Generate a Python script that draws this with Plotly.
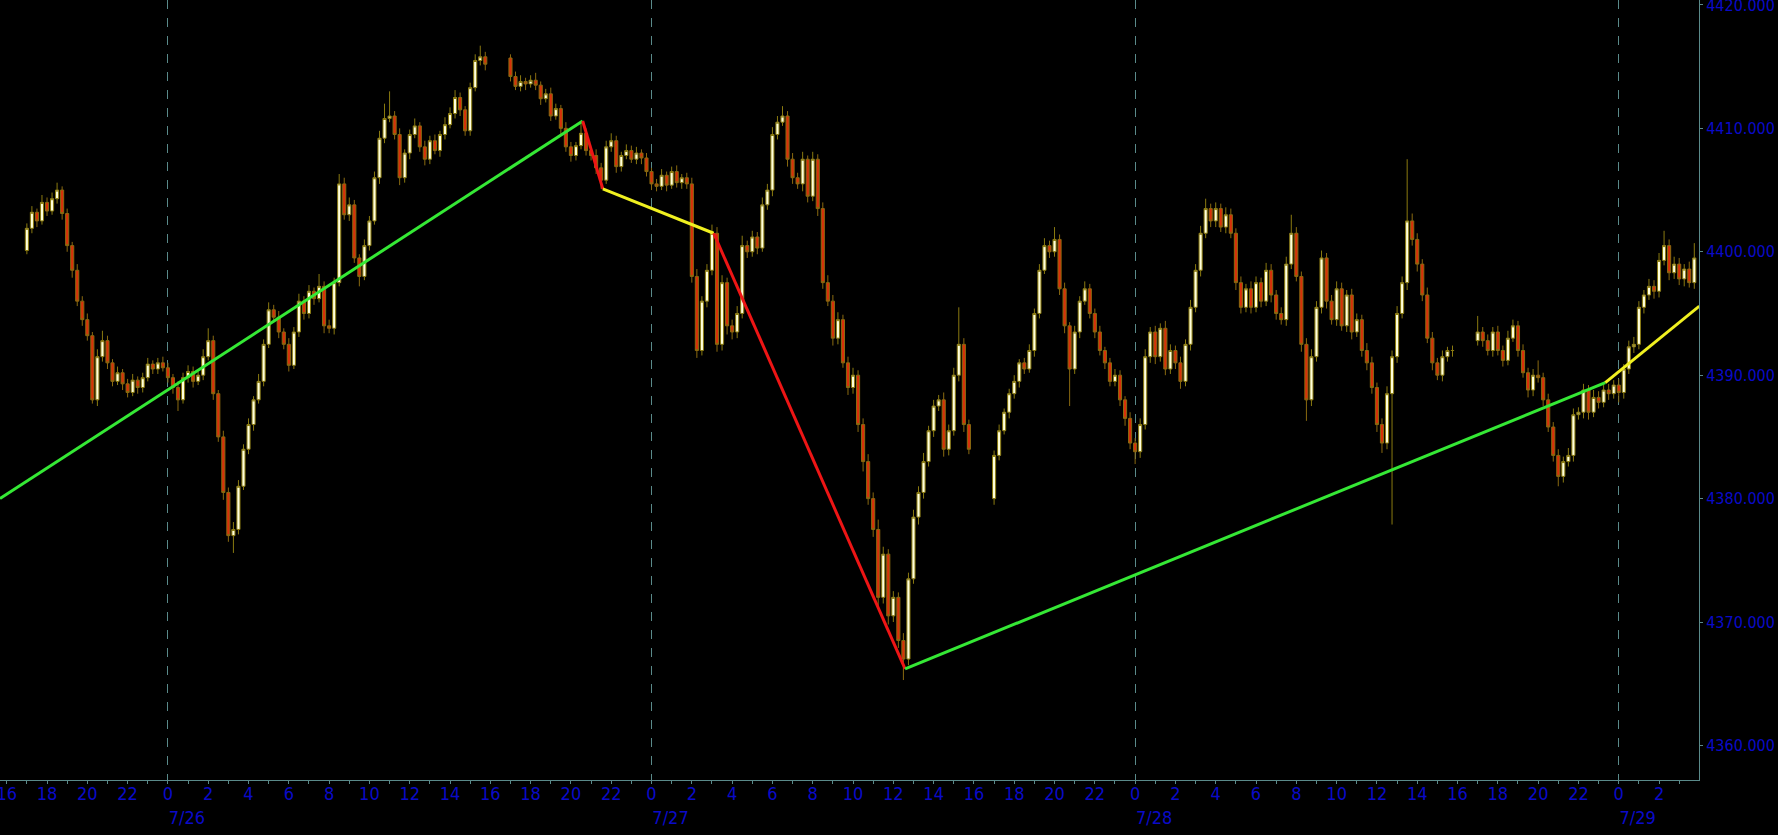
import pandas as pd
import plotly.graph_objects as go

# ---------------- data (ES futures, 15-minute bars) ----------------
session_starts = ["2021-07-25 17:00", "2021-07-26 17:00", "2021-07-27 17:00", "2021-07-28 17:00"]
session_opens = [4400.1, 4415.7, 4380.0, 4392.8]

closes_s1 = [
    4401.9, 4403.2, 4402.5, 4404.0, 4403.3, 4404.3, 4405.0, 4403.1,
    4400.5, 4398.5, 4396.0, 4394.5, 4393.2, 4388.0, 4391.5, 4392.8,
    4391.0, 4389.5, 4390.2, 4389.3, 4388.6, 4389.6, 4389.0, 4389.8,
    4390.9, 4390.5, 4391.0, 4390.6, 4389.8, 4389.0, 4388.0, 4389.8,
    4390.3, 4389.5, 4390.0, 4391.5, 4392.8, 4388.5, 4385.0, 4380.5,
    4377.0, 4377.5, 4381.0, 4384.0, 4386.0, 4388.0, 4389.5, 4392.5,
    4395.3, 4394.7, 4393.5, 4392.5, 4390.8, 4393.5, 4396.0, 4395.0,
    4396.8, 4396.2, 4397.2, 4394.0, 4393.8, 4397.5, 4405.5, 4403.0,
    4403.8, 4399.5, 4398.0, 4400.5, 4402.5, 4406.0, 4409.2, 4410.8,
    4411.0, 4409.5, 4406.0, 4408.0, 4409.5, 4410.2, 4408.5, 4407.5,
    4409.0, 4408.2, 4409.5, 4410.3, 4411.2, 4412.5, 4411.5, 4409.8,
    4413.3, 4415.5, 4415.8, 4415.2,
]
upper_s1 = [
    0.4, 0.5, 0.3, 0.6, 0.4, 0.5, 0.6, 0.3, 0.4, 0.3, 0.5, 0.4,
    0.5, 0.3, 0.6, 0.8, 0.4, 0.3, 0.5, 0.3, 0.4, 0.5, 0.3, 0.4,
    0.5, 0.3, 0.4, 0.5, 0.4, 0.3, 0.5, 0.4, 0.5, 0.4, 0.3, 0.6,
    1.0, 0.4, 0.3, 0.5, 0.4, 0.6, 0.5, 0.4, 0.5, 0.3, 0.6, 0.4,
    0.6, 0.4, 0.5, 0.3, 0.5, 0.4, 0.6, 0.4, 0.5, 0.3, 1.0, 0.4,
    0.5, 0.4, 0.8, 0.5, 0.6, 0.4, 0.3, 0.5, 0.4, 0.5, 0.6, 1.2,
    2.0, 0.4, 0.5, 0.3, 0.4, 0.6, 0.3, 0.5, 0.4, 0.5, 0.3, 0.6,
    0.5, 0.6, 0.4, 0.3, 0.4, 0.5, 0.9, 0.4,
]
lower_s1 = [
    0.3, 0.4, 0.5, 0.3, 0.4, 0.3, 0.4, 0.5, 0.5, 0.6, 0.4, 0.5,
    0.4, 0.3, 0.5, 0.4, 0.5, 0.4, 0.3, 0.5, 0.4, 0.3, 0.5, 0.4,
    0.3, 0.4, 0.4, 0.3, 0.4, 0.5, 0.9, 0.3, 0.4, 0.5, 0.3, 0.4,
    0.3, 0.5, 0.4, 0.6, 0.5, 1.4, 0.4, 0.3, 0.4, 0.5, 0.3, 0.4,
    0.3, 0.4, 0.5, 0.4, 0.5, 0.3, 0.4, 0.5, 0.4, 0.5, 0.3, 0.6,
    0.4, 0.5, 0.3, 0.4, 0.5, 0.4, 0.8, 0.3, 0.4, 0.3, 0.5, 0.4,
    0.3, 0.4, 0.6, 0.4, 0.5, 0.3, 0.4, 0.5, 0.4, 0.3, 0.5, 0.4,
    0.3, 0.4, 0.5, 0.4, 0.4, 0.3, 0.4, 0.5,
]

closes_s2 = [
    4414.2, 4413.4, 4413.8, 4413.6, 4413.9, 4413.5, 4412.4, 4412.8,
    4411.0, 4411.6, 4410.0, 4408.5, 4407.8, 4408.6, 4409.6, 4408.2,
    4407.8, 4406.8, 4405.8, 4408.5, 4409.0, 4406.9, 4407.8, 4408.2,
    4407.5, 4408.0, 4407.6, 4406.5, 4405.5, 4405.3, 4406.2, 4405.4,
    4406.5, 4405.6, 4406.0, 4405.5, 4398.0, 4392.0, 4396.0, 4398.5,
    4401.5, 4392.5, 4397.5, 4394.0, 4393.5, 4395.0, 4400.5, 4400.0,
    4401.2, 4400.3, 4403.8, 4405.0, 4409.5, 4410.5, 4411.0, 4407.5,
    4406.0, 4405.5, 4407.5, 4404.5, 4407.5, 4403.5, 4397.5, 4396.0,
    4393.0, 4394.5, 4391.0, 4389.0, 4390.0, 4386.0, 4383.0, 4380.0,
    4377.5, 4372.0, 4375.5, 4370.5, 4372.0, 4368.5, 4367.0, 4373.5,
    4378.5, 4380.5, 4383.0, 4385.5, 4387.5, 4388.0, 4384.0, 4385.5,
    4390.0, 4392.5, 4386.0, 4384.0,
]
upper_s2 = [
    0.3, 0.4, 0.5, 0.3, 0.4, 0.6, 0.3, 0.4, 0.5, 0.4, 0.3, 0.5,
    0.4, 0.3, 1.0, 0.4, 0.3, 0.5, 0.4, 0.5, 0.6, 0.4, 0.3, 0.5,
    0.4, 0.5, 0.3, 0.4, 0.3, 0.4, 0.5, 0.3, 0.4, 0.5, 0.3, 0.4,
    0.5, 0.6, 0.4, 0.5, 0.7, 0.5, 0.6, 0.4, 0.5, 0.6, 0.8, 0.4,
    0.5, 0.4, 0.6, 0.5, 0.6, 0.5, 0.8, 0.4, 0.5, 0.4, 0.6, 0.3,
    0.6, 0.4, 0.5, 0.6, 0.5, 0.6, 0.4, 0.5, 0.6, 0.4, 0.5, 0.6,
    0.5, 0.8, 0.6, 0.4, 0.5, 0.4, 0.6, 0.5, 0.6, 0.5, 0.7, 0.4,
    0.5, 0.4, 0.6, 0.5, 0.6, 3.0, 0.5, 0.4,
]
lower_s2 = [
    0.4, 0.3, 0.4, 0.5, 0.3, 0.4, 0.5, 0.3, 0.4, 0.3, 0.5, 0.4,
    0.5, 0.4, 0.3, 0.4, 0.4, 0.5, 0.7, 0.3, 0.4, 0.5, 0.4, 0.3,
    0.3, 0.4, 0.5, 0.4, 0.5, 0.4, 0.3, 0.5, 0.3, 0.4, 0.5, 0.4,
    0.5, 0.6, 0.4, 0.5, 0.4, 0.6, 0.5, 0.7, 0.6, 0.5, 0.4, 0.5,
    0.4, 0.5, 0.3, 0.4, 0.5, 0.4, 0.3, 0.6, 0.5, 0.4, 0.6, 0.5,
    0.4, 0.6, 0.5, 0.4, 0.6, 0.5, 0.4, 0.6, 0.5, 0.6, 0.8, 0.5,
    0.6, 0.8, 0.5, 0.7, 0.5, 0.6, 1.7, 0.5, 0.4, 0.6, 0.5, 0.4,
    0.5, 0.4, 0.6, 0.5, 0.4, 0.5, 0.6, 0.4,
]

closes_s3 = [
    4383.5, 4385.5, 4387.0, 4388.5, 4389.5, 4391.0, 4390.5, 4392.0,
    4395.0, 4398.5, 4400.5, 4400.0, 4401.0, 4397.0, 4394.0, 4390.5,
    4393.5, 4396.0, 4397.0, 4395.0, 4393.5, 4392.0, 4391.0, 4389.5,
    4390.0, 4388.0, 4386.5, 4384.5, 4383.8, 4386.0, 4391.5, 4393.5,
    4391.5, 4393.8, 4390.5, 4392.0, 4391.0, 4389.5, 4392.5, 4395.5,
    4398.5, 4401.5, 4403.5, 4402.5, 4403.5, 4402.0, 4403.0, 4401.5,
    4397.5, 4395.5, 4397.0, 4395.5, 4397.5, 4396.0, 4398.5, 4396.5,
    4395.0, 4394.5, 4399.0, 4401.5, 4398.0, 4392.5, 4388.0, 4391.5,
    4395.5, 4399.5, 4396.0, 4394.5, 4397.0, 4394.0, 4396.5, 4393.5,
    4394.5, 4392.0, 4391.0, 4389.0, 4386.0, 4384.5, 4388.5, 4391.5,
    4395.0, 4397.5, 4402.5, 4401.0, 4399.0, 4396.5, 4393.0, 4391.0,
    4390.0, 4391.5, 4392.0, 4392.0,
]
upper_s3 = [
    0.4, 0.5, 0.3, 0.4, 0.5, 0.3, 0.4, 0.5, 0.4, 0.5, 0.6, 0.4,
    1.0, 0.4, 0.5, 0.3, 0.5, 0.4, 0.6, 0.4, 0.4, 0.5, 0.3, 0.4,
    0.5, 0.4, 0.3, 0.5, 0.4, 0.5, 0.6, 0.4, 0.5, 0.4, 0.6, 0.5,
    0.4, 0.5, 0.4, 0.6, 0.5, 0.6, 0.8, 0.4, 0.5, 0.4, 0.6, 0.5,
    0.4, 0.5, 0.4, 0.6, 0.5, 0.4, 0.6, 0.5, 0.4, 0.5, 0.6, 1.5,
    0.5, 0.4, 0.5, 0.6, 0.5, 0.6, 0.4, 0.5, 0.6, 0.5, 0.4, 0.5,
    0.5, 0.4, 0.6, 0.5, 0.4, 0.5, 0.6, 0.5, 0.6, 0.5, 5.0, 0.6,
    0.5, 0.4, 0.6, 0.5, 0.4, 0.5, 0.3, 0.4,
]
lower_s3 = [
    0.5, 0.4, 0.3, 0.5, 0.4, 0.5, 0.4, 0.3, 0.5, 0.4, 0.3, 0.5,
    0.4, 0.5, 0.6, 3.0, 0.4, 0.5, 0.3, 0.4, 0.5, 0.4, 0.5, 0.4,
    0.4, 0.5, 0.6, 0.5, 1.0, 0.5, 0.4, 0.5, 0.6, 0.4, 0.5, 0.4,
    0.5, 0.6, 0.4, 0.5, 0.4, 0.5, 0.4, 0.5, 0.5, 0.4, 0.5, 0.4,
    0.6, 0.5, 0.4, 0.5, 0.4, 0.5, 0.4, 0.6, 0.5, 0.4, 0.5, 0.4,
    0.4, 0.6, 1.7, 0.5, 0.4, 0.5, 0.6, 0.4, 0.5, 0.4, 0.5, 0.6,
    0.4, 0.5, 0.6, 0.5, 0.6, 0.8, 0.5, 10.6, 0.5, 0.4, 0.6, 0.5,
    0.6, 0.5, 0.4, 0.6, 0.4, 0.5, 0.4, 0.5,
]

closes_s4 = [
    4393.5, 4392.8, 4392.0, 4393.5, 4392.0, 4391.2, 4393.0, 4394.0,
    4392.0, 4390.2, 4388.8, 4390.0, 4389.8, 4388.0, 4385.8, 4383.5,
    4381.8, 4383.0, 4383.5, 4386.8, 4387.0, 4388.8, 4387.0, 4388.2,
    4387.8, 4388.8, 4388.5, 4389.2, 4388.6, 4390.5, 4392.3, 4392.5,
    4395.5, 4396.5, 4397.2, 4396.8, 4399.3, 4400.5, 4398.3, 4399.0,
    4397.8, 4398.6, 4397.5, 4399.5,
]
upper_s4 = [
    1.3, 0.4, 0.5, 0.4, 0.5, 0.4, 0.6, 0.5, 0.4, 0.5, 0.4, 0.5,
    1.2, 0.4, 0.5, 0.4, 0.5, 0.4, 0.6, 0.5, 0.4, 0.5, 0.4, 0.6,
    0.5, 0.4, 0.5, 0.4, 0.5, 0.4, 0.5, 0.6, 0.5, 0.4, 0.6, 0.5,
    0.6, 1.2, 0.5, 0.6, 0.5, 0.4, 0.6, 1.2,
]
lower_s4 = [
    0.4, 0.5, 0.4, 0.5, 0.4, 0.5, 0.4, 0.3, 0.5, 0.4, 0.6, 0.5,
    0.4, 0.5, 0.4, 0.5, 0.8, 0.5, 0.4, 0.5, 0.4, 0.5, 0.6, 0.4,
    0.5, 0.4, 0.5, 0.4, 0.8, 0.5, 0.4, 0.5, 0.4, 0.5, 0.4, 0.6,
    0.5, 0.4, 0.6, 0.5, 0.5, 0.6, 0.4, 0.5,
]

# zig-zag overlay vertices and segment colours
zz_times = ["2021-07-25 15:40", "2021-07-26 20:35", "2021-07-26 21:35", "2021-07-27 03:05",
            "2021-07-27 12:35", "2021-07-28 23:20", "2021-07-29 04:00"]
zz_values = [4380.0, 4410.6, 4405.1, 4401.5, 4366.2, 4389.4, 4395.6]
zz_colors = ["#35E835", "#EE1515", "#F0F020", "#EE1515", "#35E835", "#F0F020"]

x_range = ["2021-07-25 15:40", "2021-07-29 03:59"]
y_range = [4357.2, 4420.4]

# ---------------- build OHLC ----------------
sessions = [
    (closes_s1, upper_s1, lower_s1),
    (closes_s2, upper_s2, lower_s2),
    (closes_s3, upper_s3, lower_s3),
    (closes_s4, upper_s4, lower_s4),
]
X, O, H, L, C = [], [], [], [], []
for start, first_open, (cl, up, lo) in zip(session_starts, session_opens, sessions):
    times = pd.date_range(start, periods=len(cl), freq="15min")
    prev = first_open
    for t, c, u, d in zip(times, cl, up, lo):
        o = prev
        X.append(t)
        O.append(o)
        C.append(c)
        H.append(round(max(o, c) + u, 2))
        L.append(round(min(o, c) - d, 2))
        prev = c

BLUE = "#0A0AC8"
AXIS = "#5A8A8A"
FONT = "DejaVu Sans Condensed, DejaVu Sans, sans-serif"

fig = go.Figure()
fig.add_trace(go.Candlestick(
    x=X, open=O, high=H, low=L, close=C,
    increasing=dict(fillcolor="#FFFFDC", line=dict(color="#8A7A10", width=1)),
    decreasing=dict(fillcolor="#D8300A", line=dict(color="#8A6A10", width=1)),
    whiskerwidth=0, showlegend=False, hoverinfo="skip",
))

for i in range(len(zz_colors)):
    fig.add_trace(go.Scatter(
        x=zz_times[i:i + 2], y=zz_values[i:i + 2], mode="lines",
        line=dict(color=zz_colors[i], width=3), xaxis="x2", yaxis="y",
        showlegend=False, hoverinfo="skip",
    ))

fig.update_layout(
    width=1778, height=835,
    paper_bgcolor="black", plot_bgcolor="black",
    margin=dict(l=0, r=79, t=0, b=55, pad=0),
    boxgap=0.12,
    showlegend=False,
    xaxis=dict(
        type="date", range=x_range, rangeslider=dict(visible=False),
        automargin=False, ticklabeloverflow="allow",
        showgrid=False, zeroline=False,
        showline=True, linecolor=AXIS, linewidth=1,
        tick0="2021-07-26 00:00", dtick=7200000, tickformat="%-H",
        ticks="outside", ticklen=3, tickcolor=AXIS,
        minor=dict(dtick=3600000, ticks="outside", ticklen=3, tickcolor=AXIS),
        ticklabelstandoff=-6,
        tickfont=dict(family=FONT, size=18, color=BLUE),
    ),
    xaxis2=dict(
        type="date", range=x_range, overlaying="x", anchor="y", side="bottom",
        automargin=False, ticklabeloverflow="allow",
        showgrid=True, griddash="dash", gridcolor=AXIS, gridwidth=1,
        zeroline=False, showline=False, ticks="",
        tick0="2021-07-26 00:00", dtick=86400000, tickformat="%-m/%-d",
        ticklabelstandoff=25, ticklabelshift=19,
        tickfont=dict(family=FONT, size=18, color=BLUE),
    ),
    yaxis=dict(
        side="right", range=y_range, tick0=4360, dtick=10, tickformat=".3f",
        automargin=False, ticklabeloverflow="allow",
        showgrid=False, zeroline=False,
        showline=True, linecolor=AXIS, linewidth=1,
        ticks="outside", ticklen=3, tickcolor=AXIS,
        tickfont=dict(family=FONT, size=16, color=BLUE),
    ),
)

fig.write_html(
    "out.html",
    config={"displayModeBar": False},
    post_script="document.body.style.margin='0';document.body.style.background='black';",
)
